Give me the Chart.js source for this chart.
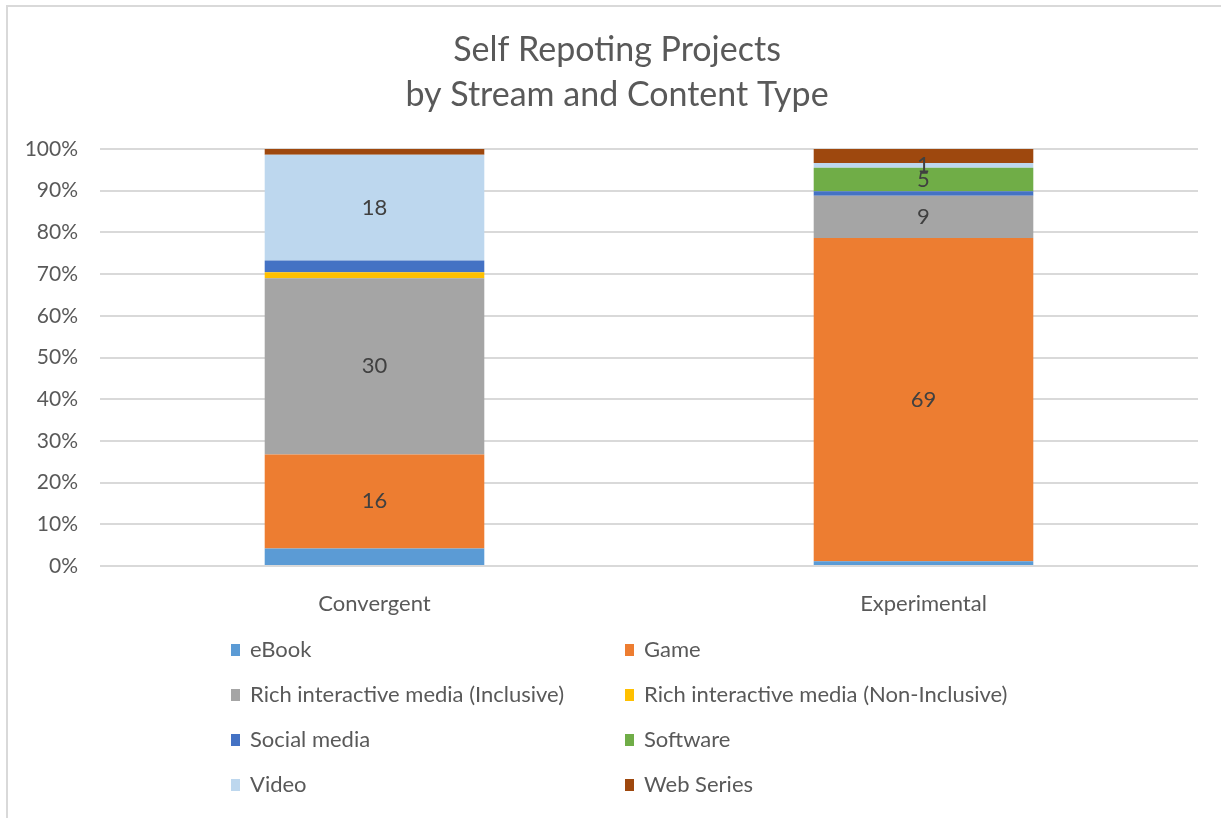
<!DOCTYPE html>
<html>
<head>
<meta charset="utf-8">
<title>Self Repoting Projects</title>
<script src="https://cdn.jsdelivr.net/npm/chart.js@4.4.1/dist/chart.umd.min.js"></script>
<style>
  html, body { margin: 0; padding: 0; background: #fff; }
  #wrap { position: relative; width: 1221px; height: 818px; }
</style>
</head>
<body>
<div id="wrap"><canvas id="chart"></canvas></div>
<script>
// data - project counts per stream, shown as 100% stacked columns
const streams = ['Convergent', 'Experimental'];
const contentTypes = [
  'eBook', 'Game', 'Rich interactive media (Inclusive)', 'Rich interactive media (Non-Inclusive)',
  'Social media', 'Software', 'Video', 'Web Series'
];
const eBook = [3, 1];
const game = [16, 69];
const richInclusive = [30, 9];
const richNonInclusive = [1, 0];
const socialMedia = [2, 1];
const software = [0, 5];
const video = [18, 1];
const webSeries = [1, 3];
// which counts carry a data label in the original (per stream)
const labelled = [
  [false, true, true, false, false, false, true, false],
  [false, true, true, false, false, true, true, false]
];
const yTicks = [0, 10, 20, 30, 40, 50, 60, 70, 80, 90, 100];
const titleLines = ['Self Repoting Projects', 'by Stream and Content Type'];

const colors = ['#5b9bd5', '#ed7d31', '#a5a5a5', '#ffc000', '#4472c4', '#70ad47', '#bdd7ee', '#9e480e'];
const FONT = 'Lato, "Open Sans", sans-serif';
const TEXT = '#595959';

const counts = [eBook, game, richInclusive, richNonInclusive, socialMedia, software, video, webSeries];
const totals = streams.map((_, i) => counts.reduce((s, arr) => s + arr[i], 0));

const datasets = contentTypes.map((name, k) => ({
  label: name,
  data: counts[k].map((v, i) => v / totals[i] * 100),
  raw: counts[k],
  backgroundColor: colors[k],
  borderWidth: 0,
  barPercentage: 0.4,
  categoryPercentage: 1.0
}));

// data labels in the middle of the segments
const segmentLabels = {
  id: 'segmentLabels',
  afterDatasetsDraw(chart) {
    const ctx = chart.ctx;
    ctx.save();
    ctx.font = '22px ' + FONT;
    ctx.fillStyle = '#404040';
    ctx.textAlign = 'center';
    ctx.textBaseline = 'middle';
    chart.data.datasets.forEach((ds, k) => {
      const meta = chart.getDatasetMeta(k);
      meta.data.forEach((bar, i) => {
        if (!labelled[i][k]) return;
        const mid = (bar.y + bar.base) / 2;
        ctx.fillText(String(ds.raw[i]), bar.x, mid);
      });
    });
    ctx.restore();
  }
};

// frame, title and the two column legend under the plot
const decor = {
  id: 'decor',
  beforeDraw(chart) {
    const ctx = chart.ctx;
    ctx.save();
    ctx.strokeStyle = '#d9d9d9';
    ctx.lineWidth = 2;
    ctx.beginPath();
    ctx.moveTo(7, chart.height);
    ctx.lineTo(7, 6);
    ctx.lineTo(chart.width, 6);
    ctx.stroke();
    ctx.restore();
  },
  afterDraw(chart) {
    const ctx = chart.ctx;
    ctx.save();
    ctx.fillStyle = TEXT;
    ctx.textAlign = 'center';
    ctx.textBaseline = 'middle';
    ctx.font = '34px ' + FONT;
    titleLines.forEach((t, i) => ctx.fillText(t, 617, 50 + i * 45));

    const cols = [231, 625];
    const rowTop = 650, rowGap = 45;
    ctx.font = '22px ' + FONT;
    ctx.textAlign = 'left';
    chart.data.datasets.forEach((ds, k) => {
      const x = cols[k % 2];
      const y = rowTop + Math.floor(k / 2) * rowGap;
      ctx.fillStyle = ds.backgroundColor;
      ctx.fillRect(x, y - 6, 9, 12);
      ctx.fillStyle = TEXT;
      ctx.fillText(ds.label, x + 19, y);
    });
    ctx.restore();
  }
};

new Chart(document.getElementById('chart'), {
  type: 'bar',
  data: { labels: streams, datasets },
  plugins: [segmentLabels, decor],
  options: {
    responsive: true,
    maintainAspectRatio: false,
    animation: false,
    layout: { padding: { left: 0, right: 23, top: 149, bottom: 192 } },
    plugins: {
      legend: { display: false },
      tooltip: { enabled: false },
      title: { display: false }
    },
    scales: {
      x: {
        stacked: true,
        grid: { display: false },
        border: { display: false },
        ticks: { color: TEXT, font: { family: FONT, size: 22 }, padding: 17 },
        afterFit: (s) => { s.height = 60; }
      },
      y: {
        stacked: true,
        min: 0,
        max: 100,
        afterBuildTicks: (s) => { s.ticks = yTicks.map(v => ({ value: v })); },
        afterFit: (s) => { s.width = 100; },
        grid: { color: '#d9d9d9', lineWidth: 2, drawTicks: false },
        border: { display: false },
        ticks: {
          color: TEXT,
          font: { family: FONT, size: 21 },
          padding: 22,
          callback: (v) => v + '%'
        }
      }
    }
  }
});
</script>
</body>
</html>
